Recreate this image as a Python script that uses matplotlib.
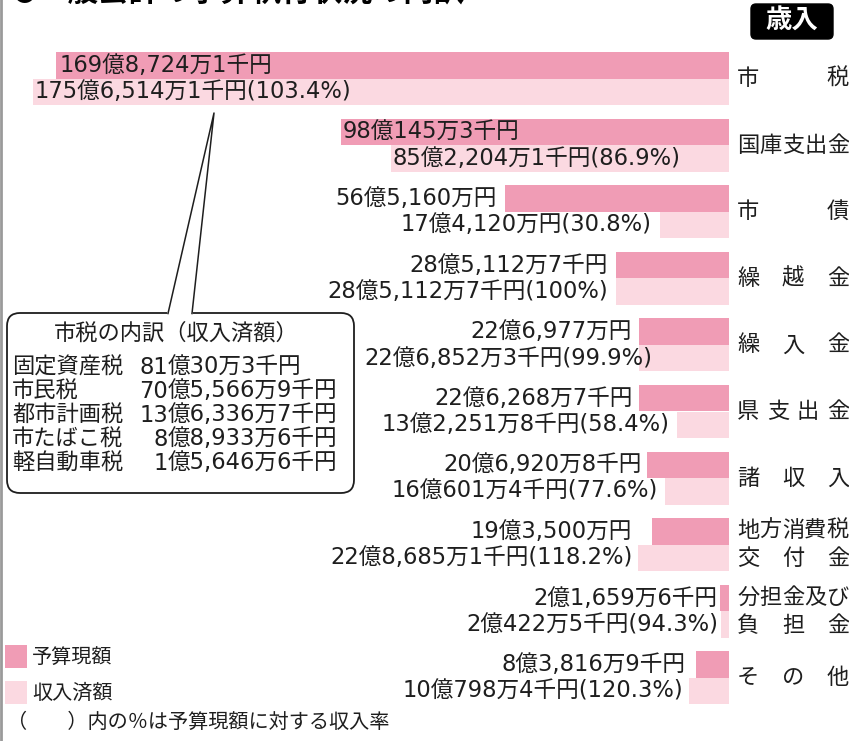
import matplotlib
matplotlib.use('Agg')
import matplotlib.pyplot as plt
from matplotlib.patches import FancyBboxPatch, Rectangle, Polygon
from matplotlib.transforms import Affine2D
from matplotlib.lines import Line2D

plt.rcParams['font.family'] = ['Noto Sans CJK JP', 'DejaVu Sans']

# ---------------- data (units: 千円) ----------------
categories = ['市税', '国庫支出金', '市債', '繰越金', '繰入金', '県支出金', '諸収入',
              '地方消費税\n交付金', '分担金及び\n負担金', 'その他']
budget = [16987241, 9801453, 5651600, 2851127, 2269770, 2262687, 2069208,
          1935000, 216596, 838169]
revenue = [17565141, 8522041, 1741200, 2851127, 2268523, 1322518, 1606014,
           2286851, 204225, 1007984]

breakdown_names = ['固定資産税', '市民税', '都市計画税', '市たばこ税', '軽自動車税']
breakdown_values = [8100303, 7055669, 1363367, 889336, 156466]

legend_labels = ['予算現額', '収入済額']
title_text = '一般会計の予算執行状況の内訳'
badge_text = '歳入'
box_title = '市税の内訳（収入済額）'
footer_text = '（　　）内の％は予算現額に対する収入率'

# ---------------- layout ----------------
W, H = 849, 741
PX_PER_OKU = 3.962
X0 = 729          # pixel where bars start (right edge)
ROW0 = 78.5       # pixel y of split line of first row
ROWH = 66.6
BARH = 26.5
DARK = '#F09CB5'
LIGHT = '#FBD9E1'
TXT = '#1e1e1e'
FS = 16
VFS = 16.3
NUMFAM = ['DejaVu Sans', 'Noto Sans CJK JP']
# label anchor (pixel x, alignment) for budget / revenue labels
budget_anchor = [(60, 'left'), (343, 'left'), (497, 'right'), (608, 'right'), (632, 'right'),
                 (633, 'right'), (642, 'right'), (632, 'right'), (717, 'right'), (686, 'right')]
revenue_anchor = [(35, 'left'), (681, 'right'), (652, 'right'), (608, 'right'), (652, 'right'),
                  (670, 'right'), (658, 'right'), (633, 'right'), (718, 'right'), (683, 'right')]


def fmt_yen(v):
    oku = v // 100000
    rem = v % 100000
    man = rem // 10
    sen = rem % 10
    s = f'{oku}億{man:,}万'
    if sen:
        s += f'{sen}千'
    return s + '円'


def fmt_pct(r, b):
    p = round(r / b * 100, 1)
    if abs(p - 100) < 1e-9:
        return '(100%)'
    return f'({p:.1f}%)'


fig = plt.figure(figsize=(W / 100, H / 100), dpi=100)
fig.patch.set_facecolor('white')
ax = fig.add_axes([0, 0, 1, 1])
ax.set_xlim(X0 / PX_PER_OKU, (X0 - W) / PX_PER_OKU)
ax.set_ylim((H - ROW0) / ROWH, -ROW0 / ROWH)
ax.axis('off')

pix = Affine2D().scale(1 / W, -1 / H).translate(0, 1) + fig.transFigure

n = len(categories)
idx = list(range(n))
h = BARH / ROWH
ax.barh([i - h / 2 for i in idx], [v / 1e5 for v in budget], height=h, color=DARK, zorder=2)
ax.barh([i + h / 2 for i in idx], [v / 1e5 for v in revenue], height=h, color=LIGHT, zorder=2)

# value labels
for i in idx:
    yb = ROW0 + ROWH * i - BARH / 2
    yr = ROW0 + ROWH * i + BARH / 2
    x, ha = budget_anchor[i]
    ax.text(x, yb, fmt_yen(budget[i]), transform=pix, ha=ha, va='center',
            fontsize=VFS, family=NUMFAM, color=TXT, zorder=5)
    x, ha = revenue_anchor[i]
    ax.text(x, yr, fmt_yen(revenue[i]) + fmt_pct(revenue[i], budget[i]), transform=pix,
            ha=ha, va='center', fontsize=VFS, family=NUMFAM, color=TXT, zorder=5)

# category labels (justified)
LX0, LX1 = 737, 849
EM = 22.4
for i, cat in enumerate(categories):
    lines = cat.split('\n')
    ys = [ROW0 + ROWH * i] if len(lines) == 1 else [ROW0 + ROWH * i - 14, ROW0 + ROWH * i + 14]
    for line, yy in zip(lines, ys):
        m = len(line)
        for k, ch in enumerate(line):
            cx = LX0 + EM / 2 + k * (LX1 - LX0 - EM) / (m - 1)
            ax.text(cx, yy, ch, transform=pix, ha='center', va='center', fontsize=FS, color=TXT)

# title (cut off at top, as in the source)
ax.text(13, 1, '●', transform=pix, ha='left', va='baseline', fontsize=17, color='black',
        fontweight='bold')
ax.text(38, 1, title_text, transform=pix, ha='left', va='baseline', fontsize=22,
        color='black', fontweight='bold')

# badge
ax.add_patch(FancyBboxPatch((751, 4), 82, 35, boxstyle='round,pad=0,rounding_size=5',
                            transform=pix, facecolor='black', edgecolor='black', zorder=4))
ax.text(792, 21, badge_text, transform=pix, ha='center', va='center', fontsize=19,
        color='white', fontweight='bold', zorder=6)

# callout box
box = FancyBboxPatch((7, 313), 347, 180, boxstyle='round,pad=0,rounding_size=13',
                     transform=pix, facecolor='white', edgecolor=TXT, linewidth=1.3, zorder=3)
ax.add_patch(box)
ax.add_patch(Polygon([(168, 313), (214, 114), (192, 313)], closed=False, transform=pix,
                     facecolor='white', edgecolor='none', zorder=3.5))
ax.add_line(Line2D([168, 214, 192], [313.5, 113, 313.5], transform=pix, color=TXT,
                   linewidth=1.1, zorder=4))
ax.add_line(Line2D([168.5, 191.5], [313, 313], transform=pix, color='white',
                   linewidth=2.0, zorder=3.8))
ax.text(176, 333, box_title, transform=pix, ha='center', va='center', fontsize=FS,
        color=TXT, zorder=5)
OKU_X = 168
for k, (nm, v) in enumerate(zip(breakdown_names, breakdown_values)):
    yy = 367 + 24 * k
    ax.text(12, yy, nm, transform=pix, ha='left', va='center', fontsize=FS, color=TXT, zorder=5)
    s = fmt_yen(v)
    head, tail = s.split('億', 1)
    ax.text(OKU_X, yy, head, transform=pix, ha='right', va='center', fontsize=VFS,
            family=NUMFAM, color=TXT, zorder=5)
    ax.text(OKU_X, yy, '億' + tail, transform=pix, ha='left', va='center', fontsize=VFS,
            family=NUMFAM, color=TXT, zorder=5)

# legend
for k, (lab, col) in enumerate(zip(legend_labels, [DARK, LIGHT])):
    y0 = 645 + 36 * k
    ax.add_patch(Rectangle((5, y0), 22, 23, transform=pix, facecolor=col, edgecolor='none'))
    ax.text(32, y0 + 12.5, lab, transform=pix, ha='left', va='center', fontsize=14.5, color=TXT)
ax.text(7, 722, footer_text, transform=pix, ha='left', va='center', fontsize=14.5, color=TXT)

# left gray border line
ax.add_line(Line2D([1, 1], [0, H], transform=pix, color='#9a9a9a', linewidth=2))

fig.savefig('out.png', dpi=100, facecolor='white')
